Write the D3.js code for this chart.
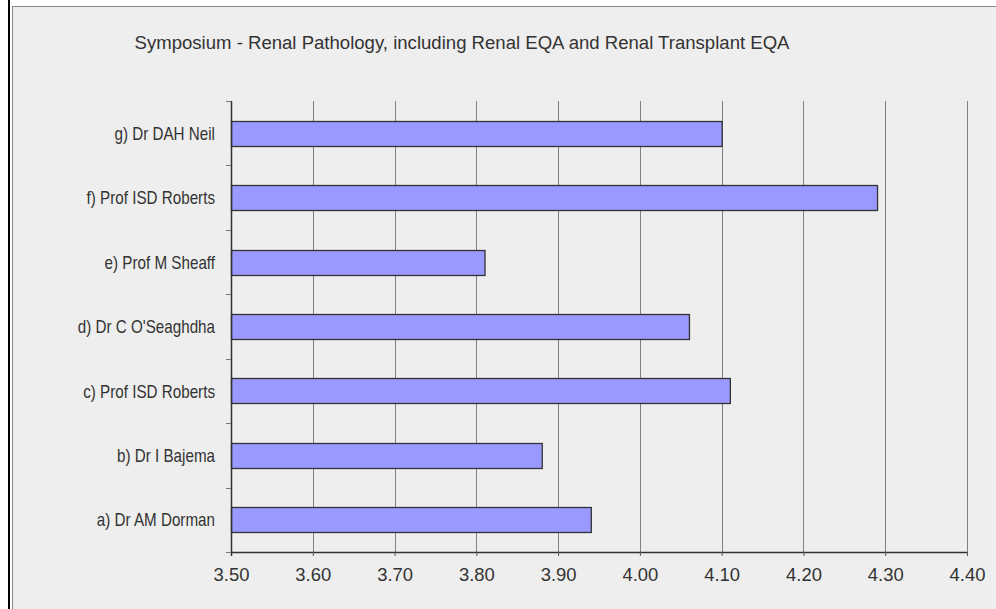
<!DOCTYPE html>
<html><head><meta charset="utf-8">
<script src="https://cdn.jsdelivr.net/npm/d3@7"></script>
<style>body{margin:0;background:#fff;}svg{display:block;}</style>
</head><body>
<script>
const title = "Symposium - Renal Pathology, including Renal EQA and Renal Transplant EQA";
const categories = ["g) Dr DAH Neil","f) Prof ISD Roberts","e) Prof M Sheaff","d) Dr C O'Seaghdha","c) Prof ISD Roberts","b) Dr I Bajema","a) Dr AM Dorman"];
const values = [4.10, 4.29, 3.81, 4.06, 4.11, 3.88, 3.94];
const xTicks = [3.5,3.6,3.7,3.8,3.9,4.0,4.1,4.2,4.3,4.4];

const W=996,H=609;
const FONT="Liberation Sans, Arial, sans-serif";
const svg=d3.select("body").append("svg").attr("width",W).attr("height",H);
svg.append("rect").attr("x",12).attr("y",6).attr("width",W-12).attr("height",H-6).attr("fill","#eeeeee");
svg.append("line").attr("x1",12.5).attr("x2",12.5).attr("y1",6).attr("y2",H).attr("stroke","#888");
svg.append("line").attr("x1",12).attr("x2",W).attr("y1",6.5).attr("y2",6.5).attr("stroke","#888");
svg.append("line").attr("x1",9).attr("x2",9).attr("y1",0).attr("y2",H).attr("stroke","#000").attr("stroke-width",2);

const L=231,R=967,T=101,B=552;
const x=d3.scaleLinear().domain([3.5,4.4]).range([L,R]);
const y=d3.scaleBand().domain(categories).range([T,B]).paddingInner(0.61).paddingOuter(0.305);

function condense(sel, k){
  sel.each(function(){ const len=this.getComputedTextLength(); this.setAttribute("textLength", len*k); this.setAttribute("lengthAdjust","spacingAndGlyphs"); });
}

svg.append("text").attr("x",462).attr("y",49).attr("text-anchor","middle")
  .attr("font-family",FONT).attr("font-size",18).attr("fill","#333")
  .attr("textLength",655).attr("lengthAdjust","spacingAndGlyphs").text(title);

// grid
svg.append("g").selectAll("line").data(xTicks.slice(1)).join("line")
  .attr("x1",d=>Math.round(x(d))+0.5).attr("x2",d=>Math.round(x(d))+0.5)
  .attr("y1",T).attr("y2",B).attr("stroke","#808080").attr("stroke-width",1);

// bars
svg.append("g").selectAll("rect").data(values).join("rect")
  .attr("x",x(3.5)+0.5).attr("y",(d,i)=>Math.round(y(categories[i]))+0.5)
  .attr("width",d=>x(d)-x(3.5)).attr("height",Math.round(y.bandwidth()))
  .attr("fill","#9999ff").attr("stroke","#333").attr("stroke-width",1.3);

// x axis
const xa=svg.append("g").attr("transform",`translate(0,${B})`)
  .call(d3.axisBottom(x).tickValues(xTicks).tickFormat(d3.format(".2f")).tickSize(4).tickPadding(11.5));
xa.select(".domain").attr("stroke","#333").attr("stroke-width",1.5).attr("d",`M${L},0.5H${R}`);
xa.selectAll(".tick line").attr("stroke","#555");
xa.selectAll("text").attr("font-family",FONT).attr("font-size",19).attr("fill","#333").call(condense,0.97);

// y axis
const ya=svg.append("g").attr("transform",`translate(${L},0)`);
ya.append("line").attr("x1",0.5).attr("x2",0.5).attr("y1",T).attr("y2",B+4).attr("stroke","#333").attr("stroke-width",1.5);
const step=(B-T)/categories.length;
ya.selectAll(".yt").data(d3.range(categories.length+1)).join("line").attr("class","yt")
  .attr("x1",-5).attr("x2",0).attr("y1",i=>Math.round(T+i*step)+0.5).attr("y2",i=>Math.round(T+i*step)+0.5)
  .attr("stroke","#777");
ya.selectAll("text").data(categories).join("text")
  .attr("x",-16).attr("y",d=>y(d)+y.bandwidth()/2).attr("dy","0.35em").attr("text-anchor","end")
  .attr("font-family",FONT).attr("font-size",19).attr("fill","#333").text(d=>d).call(condense,0.80);
</script>
</body></html>
